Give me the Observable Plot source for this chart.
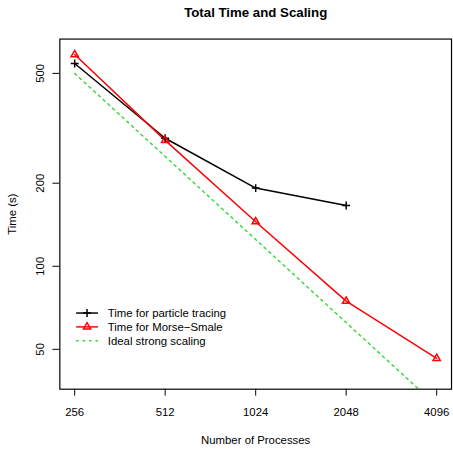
<!DOCTYPE html>
<html><head><meta charset="utf-8">
<script src="https://cdn.jsdelivr.net/npm/d3@7"></script>
<script src="https://cdn.jsdelivr.net/npm/@observablehq/plot@0.6"></script>
<style>body{margin:0;overflow:hidden;background:#fff} svg{display:block}</style>
</head><body><div id="chart"></div>
<script>
const procs = [256, 512, 1024, 2048, 4096];
const tracingTime = [543, 291, 192, 166];
const morseTime = [585, 286, 145, 74.8, 46.4];
const idealTime = [500, 250, 125, 62.5, 31.25];
const yTicks = [50, 100, 200, 500];
const seriesNames = ["Time for particle tracing", "Time for Morse\u2212Smale", "Ideal strong scaling"];
const colors = ["black", "#ff0000", "#33d633"];

const tracing = tracingTime.map((t, i) => ({p: procs[i], t}));
const morse = morseTime.map((t, i) => ({p: procs[i], t}));
const ideal = idealTime.map((t, i) => ({p: procs[i], t}));

const font = "'Liberation Sans', Arial, Helvetica, sans-serif";
const RP = 2.7, RT = 3.5;
const DASH = "2.5,4";
const FS = "11.5px";
const chart = Plot.plot({
  width: 458, height: 452,
  marginLeft: 60, marginRight: 2, marginTop: 39, marginBottom: 59,
  style: {fontFamily: font, fontSize: FS, background: "white", color: "black", overflow: "visible"},
  x: {type: "log", base: 2, domain: [256, 4096], range: [75, 441]},
  y: {type: "log", domain: [50, 500], range: [352.7, 73.7]},
  marks: [
    Plot.line(ideal, {x: "p", y: "t", stroke: colors[2], strokeWidth: 1.4, strokeDasharray: DASH, clip: true}),
    Plot.line(tracing, {x: "p", y: "t", stroke: colors[0], strokeWidth: 1.5}),
    Plot.line(morse, {x: "p", y: "t", stroke: colors[1], strokeWidth: 1.5}),
    Plot.dot(tracing, {x: "p", y: "t", symbol: "plus", stroke: colors[0], r: RP, strokeWidth: 1.5}),
    Plot.dot(morse, {x: "p", y: "t", symbol: "triangle2", stroke: colors[1], fill: "none", r: RT, strokeWidth: 1.5}),
    Plot.frame({stroke: "black", strokeWidth: 1.2}),
    Plot.axisX(procs, {tickSize: 7, tickPadding: 12, tickFormat: d => String(d), label: "Number of Processes", labelAnchor: "center", labelOffset: 55, labelArrow: "none"}),
    Plot.axisY(yTicks, {tickSize: 7, tickPadding: 9, tickRotate: -90, tickFormat: d => String(d), label: "Time (s)", labelAnchor: "center", labelOffset: 52, labelArrow: "none"}),
    Plot.text(["Total Time and Scaling"], {frameAnchor: "top", dy: -32, fontWeight: "bold", fontSize: 13.4})
  ]
});
document.getElementById("chart").appendChild(chart);

// legend
const svg = d3.select(chart);
const lg = svg.append("g").attr("font-family", font).attr("font-size", FS).attr("text-anchor", "start");
const symPlus = d3.symbol(d3.symbolPlus, Math.PI * RP * RP)();
const symTri = d3.symbol(d3.symbolTriangle2, Math.PI * RT * RT)();
const rows = [316.5, 330.5, 344.5];
seriesNames.forEach((name, i) => {
  const y = rows[i];
  lg.append("line").attr("x1", 77).attr("x2", 99).attr("y1", y).attr("y2", y)
    .attr("stroke", colors[i]).attr("stroke-width", 1.5)
    .attr("stroke-dasharray", i === 2 ? DASH : null);
  if (i < 2) lg.append("path").attr("d", i === 0 ? symPlus : symTri)
    .attr("transform", `translate(88,${y})`).attr("fill", "none")
    .attr("stroke", colors[i]).attr("stroke-width", 1.5);
  lg.append("text").attr("x", 109).attr("y", y).attr("dy", "0.35em").text(name);
});
</script></body></html>
